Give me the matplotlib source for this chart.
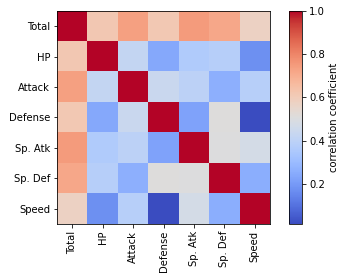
import numpy as np
import matplotlib
matplotlib.use("Agg")
import matplotlib.pyplot as plt

labels = ["Total", "HP", "Attack", "Defense", "Sp. Atk", "Sp. Def", "Speed"]
corr = np.array([
    [1.000, 0.619, 0.736, 0.613, 0.748, 0.718, 0.576],
    [0.619, 1.000, 0.422, 0.240, 0.362, 0.379, 0.176],
    [0.736, 0.422, 1.000, 0.439, 0.396, 0.264, 0.381],
    [0.613, 0.240, 0.439, 1.000, 0.224, 0.511, 0.015],
    [0.748, 0.362, 0.396, 0.224, 1.000, 0.506, 0.473],
    [0.718, 0.379, 0.264, 0.511, 0.506, 1.000, 0.259],
    [0.576, 0.176, 0.381, 0.015, 0.473, 0.259, 1.000],
])

fig = plt.figure(figsize=(344/72, 280/72), dpi=72)
ax = fig.add_axes([0.166, 0.2, 0.619, 0.761])
im = ax.imshow(corr, cmap="coolwarm", aspect="auto")
ax.set_xticks(range(len(labels)))
ax.set_xticklabels(labels, rotation=90)
ax.set_yticks(range(len(labels)))
ax.set_yticklabels(labels)
cax = fig.add_axes([0.840, 0.2, 0.038, 0.761])
cb = fig.colorbar(im, cax=cax)
cb.set_label("correlation coefficient")
fig.savefig("out.png", dpi=72)
